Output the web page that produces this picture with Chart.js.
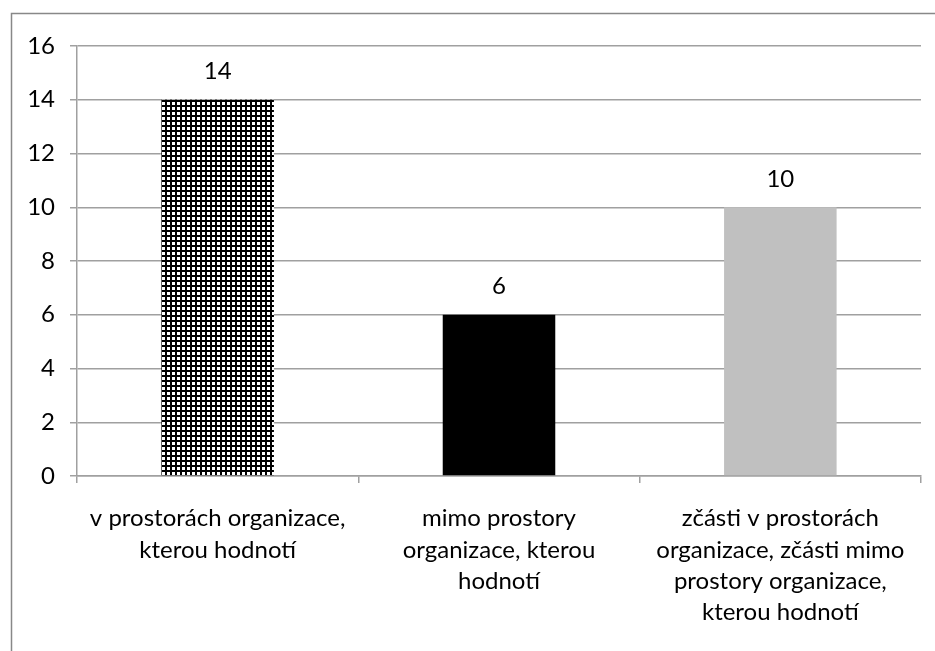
<!DOCTYPE html>
<html>
<head>
<meta charset="utf-8">
<script src="https://cdn.jsdelivr.net/npm/chart.js@4"></script>
<style>
  html, body { margin: 0; padding: 0; background: #fff; }
  #wrap { width: 935px; height: 651px; position: relative; }
</style>
</head>
<body>
<div id="wrap"><canvas id="c" width="935" height="651"></canvas></div>
<script>
// Místo konání hodnocení
const categories = [
  ["v prostorách organizace,", "kterou hodnotí"],
  ["mimo prostory", "organizace, kterou", "hodnotí"],
  ["zčásti v prostorách", "organizace, zčásti mimo", "prostory organizace,", "kterou hodnotí"]
];
const counts = [14, 6, 10];
const yTicks = [0, 2, 4, 6, 8, 10, 12, 14, 16];

const FONT = "Lato, 'Open Sans', sans-serif";
const GRID = '#a0a0a0';

// fine checkered fill for the first bar
function checkerPattern() {
  const t = document.createElement('canvas');
  t.width = 5; t.height = 5;
  const g = t.getContext('2d');
  g.fillStyle = '#fff'; g.fillRect(0, 0, 5, 5);
  g.fillStyle = '#000';
  g.fillRect(0, 0, 5, 2);
  g.fillRect(0, 0, 2, 5);
  return document.getElementById('c').getContext('2d').createPattern(t, 'repeat');
}

const frame = {
  id: 'frame',
  afterDraw(chart) {
    const ctx = chart.ctx;
    ctx.save();
    ctx.strokeStyle = '#888';
    ctx.lineWidth = 1.5;
    ctx.strokeRect(11.5, 13.5, 1200, 1200);
    ctx.restore();
  }
};

const valueLabels = {
  id: 'valueLabels',
  afterDatasetsDraw(chart) {
    const ctx = chart.ctx;
    const meta = chart.getDatasetMeta(0);
    ctx.save();
    ctx.font = '24px ' + FONT;
    ctx.fillStyle = '#000';
    ctx.textAlign = 'center';
    ctx.textBaseline = 'middle';
    meta.data.forEach((bar, i) => {
      ctx.fillText(String(counts[i]), bar.x, bar.y - 28);
    });
    ctx.restore();
  }
};

new Chart(document.getElementById('c'), {
  type: 'bar',
  data: {
    labels: categories,
    datasets: [{
      data: counts,
      backgroundColor: [checkerPattern(), '#000000', '#c0c0c0'],
      borderWidth: 0,
      barPercentage: 0.4,
      categoryPercentage: 1.0
    }]
  },
  options: {
    responsive: false,
    animation: false,
    layout: { padding: { left: 0, top: 46, right: 14, bottom: 0 } },
    plugins: { legend: { display: false }, tooltip: { enabled: false } },
    scales: {
      x: {
        grid: { display: true, drawOnChartArea: false, offset: true, color: GRID, tickLength: 7, lineWidth: 1.5 },
        border: { color: GRID, width: 1.5 },
        ticks: { color: '#000', font: { family: FONT, size: 24, lineHeight: 1.3 }, padding: 20, maxRotation: 0, autoSkip: false },
        afterFit(s) { s.height = 175; }
      },
      y: {
        min: 0, max: 16,
        afterBuildTicks(s) { s.ticks = yTicks.map(v => ({ value: v })); },
        grid: { color: GRID, tickLength: 7, lineWidth: 1.5 },
        border: { color: GRID, width: 1.5 },
        ticks: { color: '#000', font: { family: FONT, size: 24 }, padding: 15 },
        afterFit(s) { s.width = 77; }
      }
    }
  },
  plugins: [frame, valueLabels]
});
</script>
</body>
</html>
